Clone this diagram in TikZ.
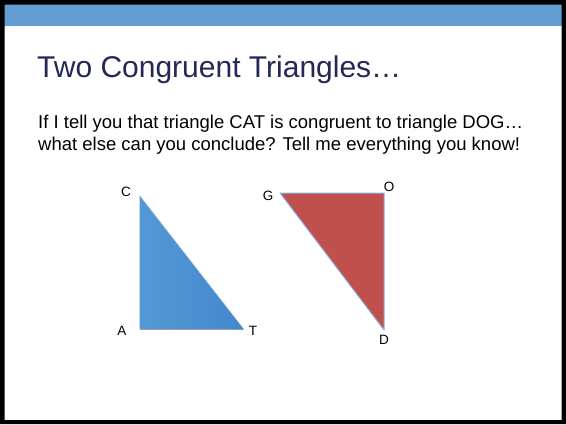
\documentclass[tikz,border=0pt]{standalone}
\usepackage{fontspec}
\setmainfont{Liberation Sans}
\definecolor{band}{RGB}{98,158,210}
\definecolor{titlec}{RGB}{36,40,86}
\definecolor{tribluea}{RGB}{84,152,214}
\definecolor{triblueb}{RGB}{66,136,204}
\definecolor{trired}{RGB}{192,80,77}
\definecolor{rededge}{RGB}{140,180,225}
\definecolor{blueedge}{RGB}{150,160,175}
\begin{document}
\begin{tikzpicture}[x=1pt,y=-1pt,
  lbl/.style={font=\fontsize{13.5}{15}\selectfont, inner sep=0pt},
  body/.style={font=\fontsize{18.5}{22}\selectfont, anchor=base west, inner sep=0pt}]
\useasboundingbox (0,0) rectangle (566,424);
\fill[white] (0,0) rectangle (566,424);
% band
\fill[band] (4,4) rectangle (562,26);
% border
\fill[black, even odd rule] (0,0) rectangle (566,424) (4.5,4.5) rectangle (561.5,420);
% title
\node[anchor=base west, inner sep=0pt, text=titlec, font=\fontsize{30}{36}\selectfont] (title) at (37,77) {Two Congruent Triangles…};
\node[body] (line1) at (38,128) {If I tell you that triangle CAT is congruent to triangle DOG…};
\node[body] (line2) at (38,150) {what else can you conclude? Tell me everything you know!};
% triangle CAT
\coordinate (C) at (139.5,195);
\coordinate (A) at (139.5,329);
\coordinate (T) at (244,329);
\shade[left color=tribluea, right color=triblueb] (C) -- (A) -- (T) -- cycle;
\draw[blueedge, line width=1pt] (A) -- (T);
\draw[white!70!blueedge, line width=0.6pt] (C) -- (T);
% triangle DOG
\coordinate (G) at (280,193);
\coordinate (O) at (384,193);
\coordinate (D) at (384,330);
\fill[trired] (G) -- (O) -- (D) -- cycle;
\draw[rededge, line width=1pt, line join=round] (G) -- (O) -- (D) -- cycle;
% labels
\node[lbl] (lC) at (126,192) {C};
\node[lbl] (lA) at (122,331) {A};
\node[lbl] (lT) at (253,331) {T};
\node[lbl] (lG) at (268,196) {G};
\node[lbl] (lO) at (389,187) {O};
\node[lbl] (lD) at (384,340) {D};
\end{tikzpicture}
\end{document}
